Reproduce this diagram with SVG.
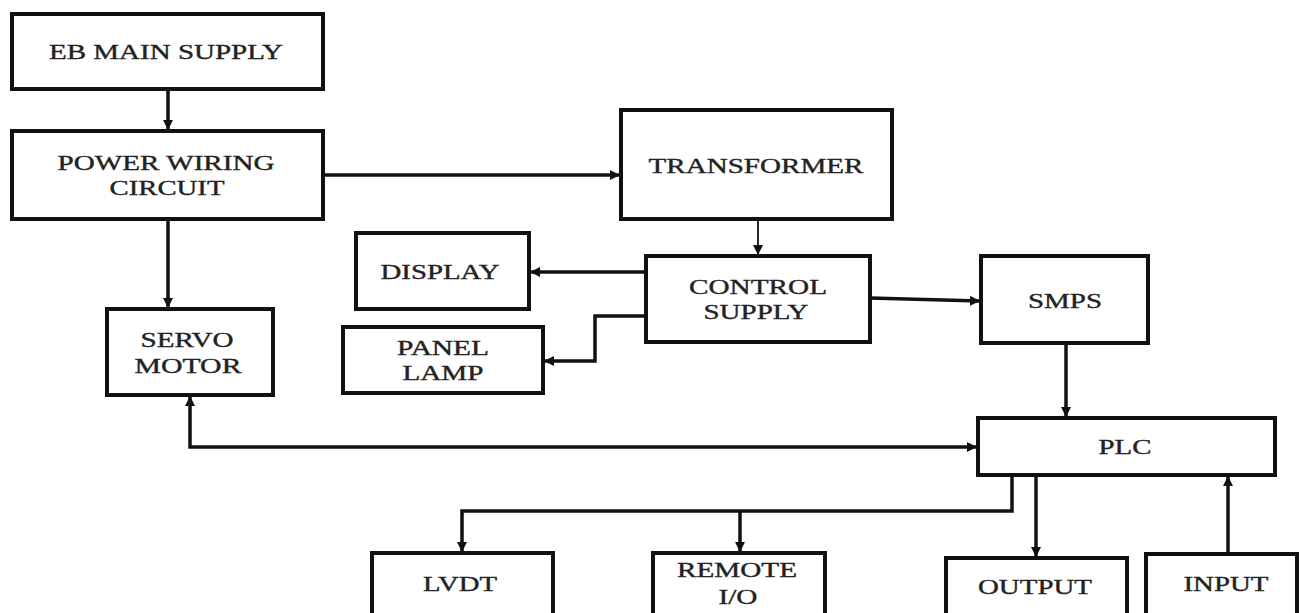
<svg xmlns="http://www.w3.org/2000/svg" width="1300" height="613" viewBox="0 0 1300 613">
<style>
.box{fill:#fff;stroke:#111;stroke-width:4}
.ln{fill:none;stroke:#111;stroke-width:3.5}
.thin{fill:none;stroke:#111;stroke-width:1.8}
text{font-family:"Liberation Serif","Times New Roman",serif;font-size:20px;fill:#222;text-anchor:middle;stroke:#222;stroke-width:0.35}
</style>
<defs>
<marker id="ah" viewBox="0 0 10 10" refX="10" refY="5" markerWidth="10" markerHeight="12" markerUnits="userSpaceOnUse" orient="auto-start-reverse">
<path d="M0,0 L10,5 L0,10 Z" fill="#111"/>
</marker>
</defs>
<rect width="1300" height="613" fill="#fff"/>
<g id="connectors">
<path class="ln" d="M168,89 V130" marker-end="url(#ah)"/>
<path class="ln" d="M323,175 H620" marker-end="url(#ah)"/>
<path class="ln" d="M168,219 V308" marker-end="url(#ah)"/>
<path class="thin" d="M758,219 V255" marker-end="url(#ah)"/>
<path class="ln" d="M646,272 H530" marker-end="url(#ah)"/>
<path class="ln" d="M646,316 H595 V361 H544" marker-end="url(#ah)"/>
<path class="ln" d="M870,298 L980,301" marker-end="url(#ah)"/>
<path class="ln" d="M1066,343 V417" marker-end="url(#ah)"/>
<path class="ln" d="M190,396 V447 H977" marker-start="url(#ah)" marker-end="url(#ah)"/>
<path class="ln" d="M1012,475 V511 H462 V552" marker-end="url(#ah)"/>
<path class="ln" d="M740,511 V552" marker-end="url(#ah)"/>
<path class="ln" d="M1036,475 V557" marker-end="url(#ah)"/>
<path class="ln" d="M1228,554 V476" marker-end="url(#ah)"/>
</g>
<g id="eb-main-supply"><rect class="box" x="12" y="14" width="311" height="75"/><text x="166" y="59" textLength="234" lengthAdjust="spacingAndGlyphs">EB MAIN SUPPLY</text></g>
<g id="power-wiring-circuit"><rect class="box" x="12" y="131" width="311" height="88"/><text x="166" y="170" textLength="217" lengthAdjust="spacingAndGlyphs">POWER WIRING</text><text x="167" y="195" textLength="115" lengthAdjust="spacingAndGlyphs">CIRCUIT</text></g>
<g id="transformer"><rect class="box" x="621" y="110" width="271" height="109"/><text x="756" y="173" textLength="215" lengthAdjust="spacingAndGlyphs">TRANSFORMER</text></g>
<g id="display"><rect class="box" x="356" y="233" width="173" height="76"/><text x="440" y="279" textLength="119" lengthAdjust="spacingAndGlyphs">DISPLAY</text></g>
<g id="control-supply"><rect class="box" x="646" y="256" width="224" height="86"/><text x="758" y="294" textLength="138" lengthAdjust="spacingAndGlyphs">CONTROL</text><text x="756" y="319" textLength="105" lengthAdjust="spacingAndGlyphs">SUPPLY</text></g>
<g id="panel-lamp"><rect class="box" x="343" y="327" width="200" height="66"/><text x="443" y="355" textLength="92" lengthAdjust="spacingAndGlyphs">PANEL</text><text x="443" y="380" textLength="81" lengthAdjust="spacingAndGlyphs">LAMP</text></g>
<g id="smps"><rect class="box" x="981" y="256" width="167" height="87"/><text x="1065" y="308" textLength="74" lengthAdjust="spacingAndGlyphs">SMPS</text></g>
<g id="servo-motor"><rect class="box" x="107" y="309" width="166" height="86"/><text x="187" y="347" textLength="93" lengthAdjust="spacingAndGlyphs">SERVO</text><text x="188" y="373" textLength="107" lengthAdjust="spacingAndGlyphs">MOTOR</text></g>
<g id="plc"><rect class="box" x="978" y="418" width="297" height="57"/><text x="1125" y="454" textLength="53" lengthAdjust="spacingAndGlyphs">PLC</text></g>
<g id="lvdt"><rect class="box" x="372" y="553" width="181" height="70"/><text x="460" y="591" textLength="74" lengthAdjust="spacingAndGlyphs">LVDT</text></g>
<g id="remote-io"><rect class="box" x="653" y="553" width="172" height="70"/><text x="737" y="577" textLength="120" lengthAdjust="spacingAndGlyphs">REMOTE</text><text x="738" y="604" textLength="39" lengthAdjust="spacingAndGlyphs">I/O</text></g>
<g id="output"><rect class="box" x="946" y="558" width="181" height="70"/><text x="1035" y="594" textLength="114" lengthAdjust="spacingAndGlyphs">OUTPUT</text></g>
<g id="input"><rect class="box" x="1146" y="554" width="151" height="70"/><text x="1226" y="591" textLength="85" lengthAdjust="spacingAndGlyphs">INPUT</text></g>
</svg>
